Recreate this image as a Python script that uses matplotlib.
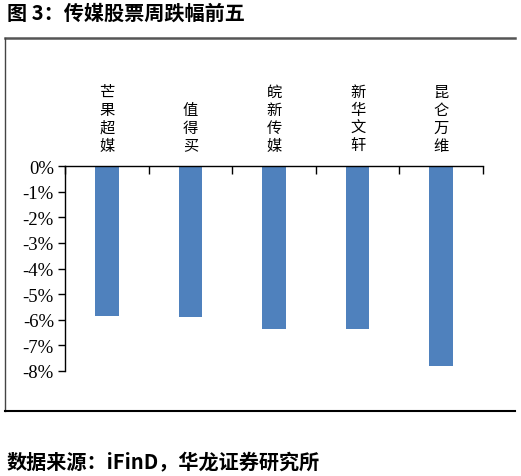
import matplotlib
matplotlib.use("Agg")
import matplotlib.pyplot as plt
from matplotlib.lines import Line2D

plt.rcParams['font.family'] = ['Noto Sans CJK SC', 'DejaVu Sans']

categories = ["芒果超媒", "值得买", "皖新传媒", "新华文轩", "昆仑万维"]
values = [-5.85, -5.9, -6.37, -6.38, -7.8]
yticks = [0, -1, -2, -3, -4, -5, -6, -7, -8]
ytick_labels = ["0%", "-1%", "-2%", "-3%", "-4%", "-5%", "-6%", "-7%", "-8%"]
title = "图 3：传媒股票周跌幅前五"
source = "数据来源：iFinD，华龙证券研究所"

W, H = 521, 477
fig = plt.figure(figsize=(W / 100, H / 100), dpi=100)

def fx(px):
    return px / W

def fy(py):
    return 1 - py / H

ax = fig.add_axes([fx(65), fy(372), fx(483) - fx(65), fy(167) - fy(372)])
x = [i + 0.5 for i in range(len(categories))]
ax.bar(x, values, width=0.28, color="#4F81BD", zorder=2)
ax.set_xlim(0, len(categories))
ax.set_ylim(-8, 0)
ax.set_yticks(yticks)
ax.set_yticklabels(ytick_labels, fontfamily="Liberation Serif", fontsize=13.5)
ax.tick_params(axis="y", direction="out", length=5, width=1, pad=3)
ax.spines["bottom"].set_visible(False)
ax.spines["right"].set_visible(False)
ax.spines["top"].set_linewidth(1)
ax.spines["left"].set_linewidth(1)
ax.xaxis.set_ticks_position("top")
ax.set_xticks(range(len(categories) + 1))
ax.set_xticklabels([])
ax.tick_params(axis="x", direction="in", length=6, width=1)

for xi, cat in zip(x, categories):
    ax.annotate("\n".join(cat), xy=(xi, 0), xycoords="data",
                xytext=(0, 9), textcoords="offset points",
                ha="center", va="bottom", fontsize=11, linespacing=1.07,
                annotation_clip=False)

fig.text(fx(7), fy(13), title, fontsize=14.5, fontweight="bold", va="center", ha="left")
fig.text(fx(7), fy(462), source, fontsize=14.5, fontweight="bold", va="center", ha="left")

fig.add_artist(Line2D([fx(5), fx(515)], [fy(39), fy(39)], color="#555555", lw=1.8, transform=fig.transFigure))
fig.add_artist(Line2D([fx(5), fx(5)], [fy(39), fy(412)], color="#444444", lw=1.0, transform=fig.transFigure))
fig.add_artist(Line2D([fx(5), fx(515)], [fy(412), fy(412)], color="black", lw=1.5, transform=fig.transFigure))

fig.savefig("out.png", dpi=100)
